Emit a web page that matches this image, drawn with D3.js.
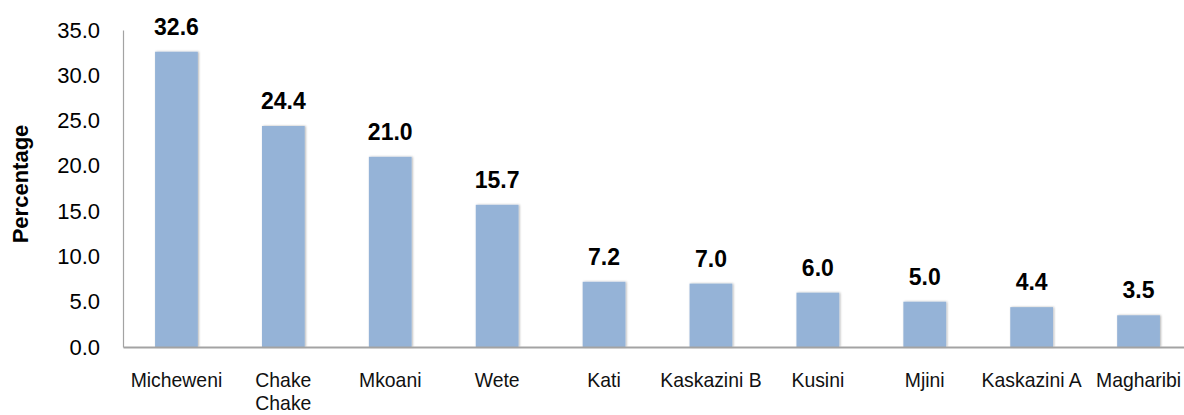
<!DOCTYPE html>
<html>
<head>
<meta charset="utf-8">
<script src="https://cdn.jsdelivr.net/npm/d3@7"></script>
<style>
	body { margin: 0; background: #fff; }
	svg { display: block; }
</style>
</head>
<body>
<svg id="chart" width="1184" height="415"></svg>
<script>
// districts, in the order they appear on the chart
var districts = ["Micheweni", "Chake Chake", "Mkoani", "Wete", "Kati",
	"Kaskazini B", "Kusini", "Mjini", "Kaskazini A", "Magharibi"];
// tick label lines under each bar
var districtLabels = [["Micheweni"], ["Chake", "Chake"], ["Mkoani"], ["Wete"], ["Kati"],
	["Kaskazini B"], ["Kusini"], ["Mjini"], ["Kaskazini A"], ["Magharibi"]];
var percentages = [32.6, 24.4, 21.0, 15.7, 7.2, 7.0, 6.0, 5.0, 4.4, 3.5];
var yTicks = [0, 5, 10, 15, 20, 25, 30, 35];

var cfg = {
	plot: { left: 123, right: 1192, top: 30, bottom: 347 },
	bar: { color: "#95b3d7" },
	axis: { color: "#a3a3a3" },
	font: "'Liberation Sans', Arial, sans-serif"
};

var svg = d3.select("#chart");

var x = d3.scaleBand()
	.domain(districts)
	.range([cfg.plot.left, cfg.plot.right])
	.paddingInner(0.6)
	.paddingOuter(0.3);

var y = d3.scaleLinear()
	.domain([0, 35])
	.range([cfg.plot.bottom, cfg.plot.top]);

// soft edge shadow like the office bars
var defs = svg.append("defs");
defs.append("filter")
	.attr("id", "barShadow")
	.attr("x", "-20%").attr("y", "-5%")
	.attr("width", "140%").attr("height", "110%")
	.append("feDropShadow")
		.attr("dx", 1).attr("dy", 0)
		.attr("stdDeviation", 1.2)
		.attr("flood-color", "#000")
		.attr("flood-opacity", 0.3);

// y axis
var yAxis = svg.append("g")
	.attr("class", "yAxis")
	.attr("transform", "translate(" + cfg.plot.left + ",0)")
	.call(d3.axisLeft(y)
		.tickValues(yTicks)
		.tickFormat(d3.format(".1f"))
		.tickSize(0)
		.tickPadding(23));

yAxis.select(".domain")
	.attr("stroke", cfg.axis.color)
	.attr("stroke-width", 1.2);

yAxis.selectAll("text")
	.attr("font-family", cfg.font)
	.attr("font-size", "22px")
	.attr("fill", "#000");

// bars
svg.append("g")
	.attr("class", "bars")
	.selectAll(".bar")
	.data(percentages)
	.enter()
	.append("rect")
		.attr("class", "bar")
		.attr("x", function(d, i) { return x(districts[i]); })
		.attr("y", function(d) { return y(d); })
		.attr("width", x.bandwidth())
		.attr("height", function(d) { return y(0) - y(d); })
		.attr("fill", cfg.bar.color)
		.attr("filter", "url(#barShadow)");

// x axis
var xAxis = svg.append("g")
	.attr("class", "xAxis")
	.attr("transform", "translate(0," + cfg.plot.bottom + ")")
	.call(d3.axisBottom(x).tickSize(0).tickSizeOuter(0).tickFormat(""));

xAxis.select(".domain")
	.attr("stroke", cfg.axis.color)
	.attr("stroke-width", 2);

xAxis.selectAll(".tick text").remove();

xAxis.selectAll(".tick")
	.append("text")
		.attr("font-family", cfg.font)
		.attr("font-size", "20px")
		.attr("fill", "#111")
		.attr("text-anchor", "middle")
		.attr("transform", "scale(0.97,1)")
		.each(function(d) {
			var lines = districtLabels[districts.indexOf(d)];
			var t = d3.select(this);
			lines.forEach(function(line, k) {
				t.append("tspan")
					.attr("x", 0)
					.attr("y", 40 + k * 23)
					.text(line);
			});
		});

// value labels
svg.append("g")
	.attr("class", "barCaptions")
	.selectAll(".barCaption")
	.data(percentages)
	.enter()
	.append("text")
		.attr("class", "barCaption")
		.attr("x", function(d, i) { return x(districts[i]) + x.bandwidth() / 2; })
		.attr("y", function(d) { return y(d) - 17; })
		.attr("text-anchor", "middle")
		.attr("font-family", cfg.font)
		.attr("font-weight", 700)
		.attr("font-size", "23px")
		.attr("fill", "#000")
		.text(function(d) { return d.toFixed(1); });

// y axis title
svg.append("text")
	.attr("transform", "translate(28,184) rotate(-90)")
	.attr("text-anchor", "middle")
	.attr("font-family", cfg.font)
	.attr("font-weight", 700)
	.attr("font-size", "22px")
	.attr("fill", "#000")
	.text("Percentage");
</script>
</body>
</html>
